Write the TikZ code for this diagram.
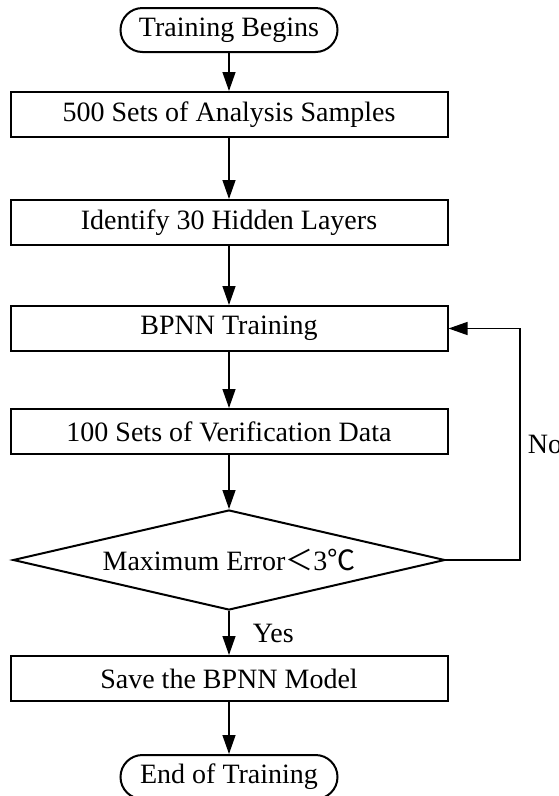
\documentclass[tikz,border=0pt]{standalone}
\usepackage{fontspec}
\setmainfont{Liberation Serif}
\newfontfamily\cjk{Noto Sans CJK SC}
\usetikzlibrary{positioning,shapes.geometric,arrows.meta}

\begin{document}
\begin{tikzpicture}
	[
	  x=1pt, y=1pt,
	  font=\fontsize{28}{33}\selectfont,
	  stepbox/.style={draw, line width=2pt, minimum width=437pt, minimum height=45pt, inner sep=0pt},
	  terminal/.style={draw, line width=2pt, rounded corners=22pt, minimum width=217pt, minimum height=44pt, inner sep=0pt},
	  decision/.style={draw, diamond, aspect=4.32, line width=2pt, minimum width=432pt, minimum height=100pt, inner sep=0pt},
	  arr/.style={line width=1.3pt, -{Triangle[length=19pt, width=13pt]}},
	]
	\useasboundingbox (0,0) rectangle (559,-796);
	\node (start) [terminal] at (229,-30) {Training Begins};
	\node (samples) [stepbox, below=38pt of start] {500 Sets of Analysis Samples};
	\node (hidden) [stepbox, below=61pt of samples] {Identify 30 Hidden Layers};
	\node (train) [stepbox, below=59pt of hidden] {BPNN Training};
	\node (verify) [stepbox, below=56pt of train] {100 Sets of Verification Data};
	\node (check) [decision, below=54pt of verify] {Maximum Error{\cjk ＜}3{\cjk ℃}};
	\node (save) [stepbox, below=44pt of check] {Save the BPNN Model};
	\node (finish) [terminal, below=52pt of save] {End of Training};
	\draw [arr] (start) -- (samples);
	\draw [arr] (samples) -- (hidden);
	\draw [arr] (hidden) -- (train);
	\draw [arr] (train) -- (verify);
	\draw [arr] (verify) -- (check);
	\draw [arr] (check) -- node [right=20pt] {Yes} (save);
	\draw [arr] (save) -- (finish);
	\draw [arr] (check.east) -- ++(74pt,0) |- node [pos=0.25, right=4pt] {No} (train.east);
\end{tikzpicture}
\end{document}
